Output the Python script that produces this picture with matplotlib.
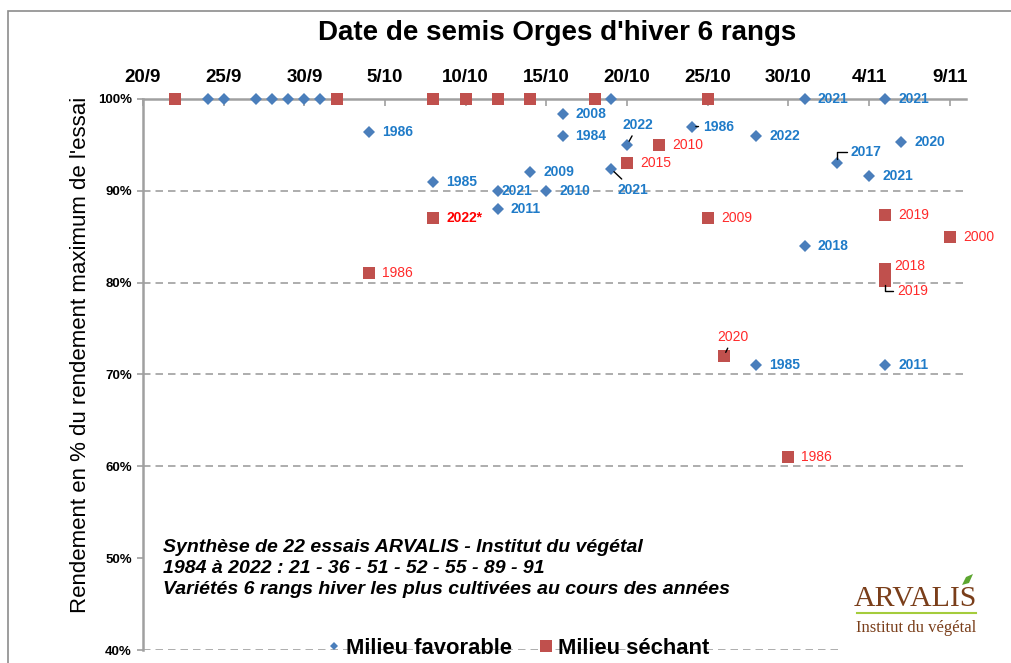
import matplotlib
matplotlib.use("Agg")
import matplotlib.pyplot as plt
from matplotlib.lines import Line2D
from matplotlib.patches import Rectangle, Polygon
import pandas as pd

plt.rcParams["font.family"] = ["Liberation Sans", "DejaVu Sans"]

# ── Data ────────────────────────────────────────────────────────────
YEAR = 2021  # season year only used to place day/month on a time axis

# Milieu favorable (blue diamonds)
fav_dates = ["24/9", "25/9", "27/9", "28/9", "29/9", "30/9", "1/10", "19/10",
             "31/10", "5/11", "4/10", "8/10", "12/10", "12/10", "14/10",
             "15/10", "16/10", "16/10", "20/10", "19/10", "24/10", "28/10",
             "2/11", "4/11", "6/11", "31/10", "28/10", "5/11"]
fav_values = [100, 100, 100, 100, 100, 100, 100, 100,
              100, 100, 96.4, 91, 90, 88, 92,
              90, 98.4, 96, 95, 92.4, 97, 96,
              93, 91.6, 95.3, 84, 71, 71]
fav_labels = ["", "", "", "", "", "", "", "",
              "2021", "2021", "1986", "1985", "2021", "2011", "2009",
              "2010", "2008", "1984", "2022", "2021", "1986", "2022",
              "2017", "2021", "2020", "2018", "1985", "2011"]

# Milieu séchant (red squares)
sec_dates = ["22/9", "2/10", "8/10", "10/10", "12/10", "14/10", "18/10",
             "25/10", "4/10", "8/10", "20/10", "22/10", "25/10", "5/11",
             "9/11", "5/11", "5/11", "26/10", "30/10"]
sec_values = [100, 100, 100, 100, 100, 100, 100,
              100, 81, 87, 93, 95, 87, 87.4,
              85, 81.5, 80.2, 72, 61]
sec_labels = ["", "", "", "", "", "", "",
              "", "1986", "2022*", "2015", "2010", "2009", "2019",
              "2000", "2018", "2019", "2020", "1986"]

x_ticks = ["20/9", "25/9", "30/9", "5/10", "10/10", "15/10", "20/10",
           "25/10", "30/10", "4/11", "9/11"]
x_end = "10/11"
y_ticks = [40, 50, 60, 70, 80, 90, 100]
grid_levels = [40, 60, 70, 80, 90]

# ── Label placement (pixel offsets from the marker) ─────────────────
# index -> (dx, dy, ha, leader)   leader: None, "line" or "elbow"
fav_place = {12: (4, 0, "left", None), 18: (11, 20, "center", "line"),
             19: (22, -21, "center", "line"), 20: (11, 0, "left", "line"),
             22: (14, 11, "left", "elbow")}
sec_place = {15: (9, 3, "left", None), 16: (12, -10, "left", "elbow"),
             17: (9, 19, "center", "line")}

BLUE_MK = "#4A7EBB"
RED_MK = "#C0504D"
BLUE_TXT = "#1F7BC8"
RED_TXT = "#FF2A2A"


def to_date(s):
    day, month = s.split("/")
    return pd.Timestamp(year=YEAR, month=int(month), day=int(day))


def add_labels(ax, dates, values, labels, place, color, bold):
    for i, (d, v, lab) in enumerate(zip(dates, values, labels)):
        if not lab:
            continue
        dx, dy, ha, leader = place.get(i, (13, 0, "left", None))
        weight = "bold" if bold else "normal"
        col = color
        if lab.endswith("*"):
            weight, col = "bold", "#FF0000"
        arrow = None
        if leader == "line":
            arrow = dict(arrowstyle="-", color="black", lw=1,
                         shrinkA=1, shrinkB=3)
        elif leader == "elbow":
            arrow = dict(arrowstyle="-", color="black", lw=1,
                         shrinkA=1, shrinkB=3, relpos=(0, 0.5),
                         connectionstyle="angle,angleA=0,angleB=90,rad=0")
        ax.annotate(lab, xy=(to_date(d), v), xytext=(dx, dy),
                    textcoords="offset pixels", ha=ha, va="center",
                    fontsize=10, fontweight=weight, color=col,
                    arrowprops=arrow, zorder=4, annotation_clip=False)


fig = plt.figure(figsize=(10.11, 6.63), dpi=100)
ax = fig.add_axes([0.1414, 0.0196, 0.8141, 0.8311])

fav_x = [to_date(d) for d in fav_dates]
sec_x = [to_date(d) for d in sec_dates]

ax.plot(fav_x, fav_values, linestyle="none", marker="D", markersize=5.8,
        color=BLUE_MK, markeredgewidth=0, clip_on=False, zorder=3,
        label="Milieu favorable")
ax.plot(sec_x, sec_values, linestyle="none", marker="s", markersize=8,
        color=RED_MK, markeredgewidth=0, clip_on=False, zorder=3,
        label="Milieu séchant")

add_labels(ax, fav_dates, fav_values, fav_labels, fav_place, BLUE_TXT, True)
add_labels(ax, sec_dates, sec_values, sec_labels, sec_place, RED_TXT, False)

for lvl in grid_levels:
    ax.axhline(lvl, color="#A0A0A0", lw=1.2, dashes=(4.5, 3), zorder=1)

# axes styling
ax.set_xlim(to_date(x_ticks[0]), to_date(x_end))
ax.set_ylim(y_ticks[0], y_ticks[-1])
ax.xaxis.tick_top()
ax.set_xticks([to_date(t) for t in x_ticks])
ax.set_xticklabels(x_ticks, fontsize=13.5, fontweight="bold")
ax.tick_params(axis="x", direction="in", length=5, width=1.2,
               color="#A0A0A0", pad=9)
ax.set_yticks(y_ticks)
ax.set_yticklabels([f"{v}%" for v in y_ticks], fontsize=9.5,
                   fontweight="bold")
ax.tick_params(axis="y", direction="out", length=4, width=1.2,
               color="#A0A0A0", pad=4)
for side in ("right", "bottom"):
    ax.spines[side].set_visible(False)
for side in ("left", "top"):
    ax.spines[side].set_color("#A0A0A0")
    ax.spines[side].set_linewidth(1.8)

ax.set_ylabel("Rendement en % du rendement maximum de l'essai",
              fontsize=16)
ax.yaxis.set_label_coords(-0.063, 0.535)

fig.text(0.551, 1 - 33 / 663, "Date de semis Orges d'hiver 6 rangs",
         ha="center", va="center", fontsize=20, fontweight="bold")

ax.text(0.024, 0.202,
        "Synthèse de 22 essais ARVALIS - Institut du végétal\n"
        "1984 à 2022 : 21 - 36 - 51 - 52 - 55 - 89 - 91\n"
        "Variétés 6 rangs hiver les plus cultivées au cours des années",
        transform=ax.transAxes, ha="left", va="top", fontsize=14,
        fontweight="bold", fontstyle="italic", linespacing=1.33, zorder=4)

# legend
handles = [Line2D([], [], linestyle="none", marker="D", markersize=4.5,
                  color=BLUE_MK, markeredgewidth=0),
           Line2D([], [], linestyle="none", marker="s", markersize=8,
                  color=RED_MK, markeredgewidth=0)]
fig.legend(handles, ["Milieu favorable", "Milieu séchant"], loc="center",
           bbox_to_anchor=(518 / 1011, 1 - 648 / 663), ncol=2,
           frameon=False, handlelength=0.7, handletextpad=0.2,
           columnspacing=1.2, prop=dict(size=15.8, weight="bold"))

# logo area
fig.patches.append(Rectangle((838 / 1011, 0), 150 / 1011, 95 / 663,
                             transform=fig.transFigure, facecolor="white",
                             edgecolor="none", zorder=1))
fig.text(915 / 1011, 1 - 599 / 663, "ARVALIS", ha="center", va="center",
         fontsize=21.5, color="#7A3E1A", family="Liberation Serif", zorder=2)
fig.lines.append(Line2D([857 / 1011, 976 / 1011], [1 - 613 / 663] * 2,
                        transform=fig.transFigure, color="#A4CC3C", lw=1.5,
                        zorder=2))
fig.text(916 / 1011, 1 - 628 / 663, "Institut du végétal", ha="center",
         va="center", fontsize=12, color="#7A3E1A",
         family="Liberation Serif", zorder=2)
fig.patches.append(Polygon([(962 / 1011, 1 - 585 / 663),
                            (966 / 1011, 1 - 577 / 663),
                            (973 / 1011, 1 - 574 / 663),
                            (969 / 1011, 1 - 583 / 663)],
                           closed=True, transform=fig.transFigure,
                           facecolor="#5CA630", edgecolor="none", zorder=2))

# outer frame
fig.patches.append(Rectangle((8 / 1011, -0.05), 1.1, 1.05 - 11 / 663,
                             transform=fig.transFigure, facecolor="none",
                             edgecolor="#8C8C8C", lw=1.2, zorder=0))

fig.savefig("out.png", dpi=100)
